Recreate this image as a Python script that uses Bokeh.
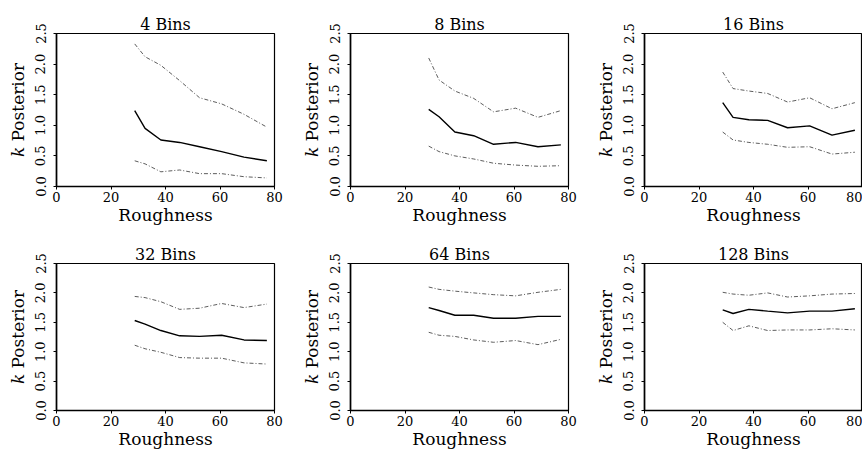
from bokeh.plotting import figure
from bokeh.layouts import column, row
from bokeh.models import FixedTicker, Range1d
from bokeh.embed import file_html
from bokeh.resources import INLINE

# ---- data ----
roughness = [28.7, 32.5, 38.3, 45.2, 52.5, 60.6, 68.8, 77.2]

titles = ["4 Bins", "8 Bins", "16 Bins", "32 Bins", "64 Bins", "128 Bins"]

mean_4 = [1.24, 0.95, 0.76, 0.72, 0.65, 0.57, 0.48, 0.42]
upper_4 = [2.33, 2.12, 1.98, 1.73, 1.45, 1.35, 1.18, 0.97]
lower_4 = [0.42, 0.37, 0.24, 0.27, 0.21, 0.21, 0.16, 0.14]

mean_8 = [1.26, 1.14, 0.89, 0.83, 0.69, 0.72, 0.65, 0.68]
upper_8 = [2.10, 1.74, 1.56, 1.44, 1.22, 1.28, 1.13, 1.24]
lower_8 = [0.66, 0.57, 0.50, 0.45, 0.38, 0.35, 0.33, 0.34]

mean_16 = [1.37, 1.13, 1.09, 1.08, 0.96, 0.99, 0.84, 0.92]
upper_16 = [1.87, 1.60, 1.56, 1.52, 1.38, 1.45, 1.27, 1.37]
lower_16 = [0.89, 0.76, 0.72, 0.69, 0.64, 0.65, 0.53, 0.56]

mean_32 = [1.53, 1.47, 1.36, 1.27, 1.26, 1.28, 1.20, 1.19]
upper_32 = [1.94, 1.92, 1.85, 1.72, 1.74, 1.82, 1.75, 1.81]
lower_32 = [1.11, 1.05, 0.99, 0.90, 0.89, 0.89, 0.81, 0.79]

mean_64 = [1.75, 1.70, 1.62, 1.62, 1.57, 1.57, 1.60, 1.60]
upper_64 = [2.10, 2.06, 2.03, 2.00, 1.97, 1.95, 2.01, 2.06]
lower_64 = [1.33, 1.28, 1.26, 1.20, 1.16, 1.19, 1.12, 1.21]

mean_128 = [1.71, 1.65, 1.72, 1.69, 1.66, 1.69, 1.69, 1.73]
upper_128 = [2.01, 1.98, 1.96, 2.00, 1.93, 1.95, 1.98, 1.99]
lower_128 = [1.50, 1.36, 1.44, 1.36, 1.37, 1.37, 1.39, 1.37]

x_ticks = [0, 20, 40, 60, 80]
y_ticks = [0.0, 0.5, 1.0, 1.5, 2.0, 2.5]
y_tick_labels = ["0.0", "0.5", "1.0", "1.5", "2.0", "2.5"]

series = [
    (mean_4, upper_4, lower_4),
    (mean_8, upper_8, lower_8),
    (mean_16, upper_16, lower_16),
    (mean_32, upper_32, lower_32),
    (mean_64, upper_64, lower_64),
    (mean_128, upper_128, lower_128),
]

FONT = "DejaVu Serif"

FRAME_W = 218
LEFT = [56, 56, 56]
widths = [294, 294, 274]
heights = [230, 221]
top_borders = [33, 33]
bottom_borders = [44, 35]


def make_panel(i):
    r, c = divmod(i, 3)
    mean, upper, lower = series[i]
    p = figure(
        width=widths[c], height=heights[r],
        output_backend="svg", toolbar_location=None,
        x_range=Range1d(0, 80), y_range=Range1d(0, 2.5),
        min_border_left=LEFT[c], min_border_right=(widths[c] - LEFT[c] - FRAME_W),
        min_border_top=top_borders[r], min_border_bottom=bottom_borders[r],
    )
    p.title.text = titles[i]
    p.title.align = "center"
    p.title.text_font = FONT
    p.title.text_font_size = "16px"
    p.title.text_font_style = "normal"
    p.title.text_color = "black"
    p.title.standoff = 0
    p.title.offset = 0

    p.xgrid.visible = False
    p.ygrid.visible = False
    p.outline_line_color = "black"
    p.outline_line_width = 1.2
    p.outline_line_alpha = 1
    p.background_fill_color = "white"
    p.border_fill_color = "white"

    p.xaxis.axis_label = "Roughness"
    p.yaxis.axis_label = "\U0001D458 Posterior"
    p.xaxis.ticker = FixedTicker(ticks=x_ticks)
    p.yaxis.ticker = FixedTicker(ticks=y_ticks)
    p.yaxis.major_label_overrides = {t: l for t, l in zip(y_ticks, y_tick_labels)}
    p.yaxis.major_label_orientation = "vertical"
    for ax in (p.xaxis, p.yaxis):
        ax.axis_label_text_font = FONT
        ax.axis_label_text_font_size = "17px"
        ax.axis_label_text_font_style = "normal"
        ax.axis_label_text_color = "black"
        ax.major_label_text_font = FONT
        ax.major_label_text_font_size = "13px"
        ax.major_label_text_color = "black"
        ax.axis_line_width = 1.6
        ax.axis_line_color = "black"
        ax.major_tick_line_color = "black"
        ax.major_tick_in = 0
        ax.major_tick_out = 3
        ax.minor_tick_line_color = None
    p.xaxis.axis_label_standoff = 0
    p.xaxis.major_label_standoff = 2
    p.yaxis.axis_label_standoff = 5
    p.yaxis.major_label_standoff = 8

    p.line(roughness, upper, line_color="#333333", line_width=0.8, line_dash="4 2 1 2")
    p.line(roughness, lower, line_color="#333333", line_width=0.8, line_dash="4 2 1 2")
    p.line(roughness, mean, line_color="black", line_width=1.4)
    return p


panels = [make_panel(i) for i in range(6)]
layout = column(row(*panels[:3]), row(*panels[3:]))

open("out.html", "w").write(file_html(layout, INLINE))
